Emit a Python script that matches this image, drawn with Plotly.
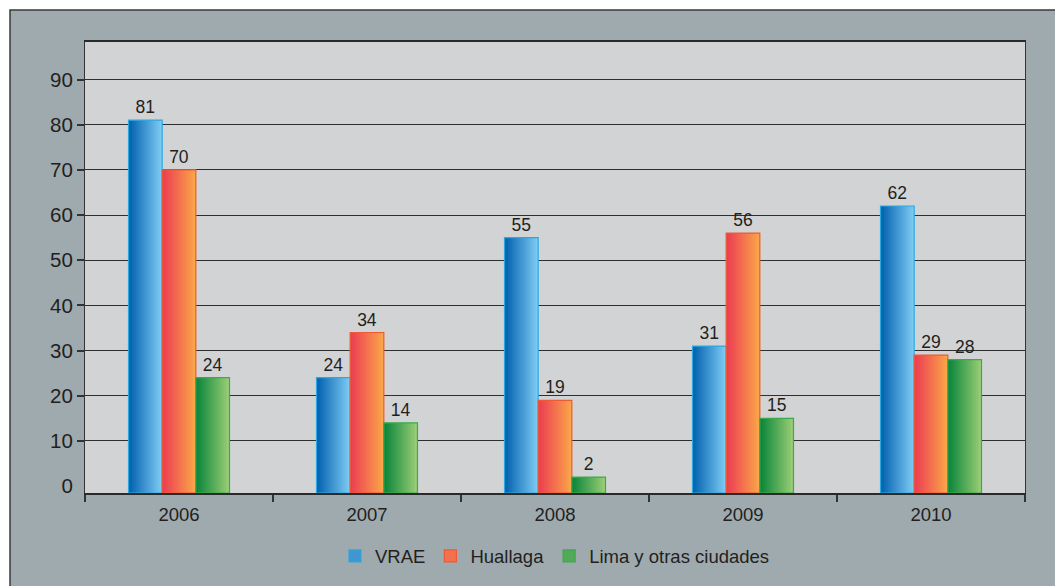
import numpy as np
import plotly.graph_objects as go

years = ["2006", "2007", "2008", "2009", "2010"]
vrae = [81, 24, 55, 31, 62]
huallaga = [70, 34, 19, 56, 29]
lima = [24, 14, 2, 15, 28]
series_names = ["VRAE", "Huallaga", "Lima y otras ciudades"]
y_ticks = [10, 20, 30, 40, 50, 60, 70, 80, 90]

# (dark edge, light edge, border) per series
palette = [
    ((4, 98, 176), (124, 202, 242), "#2aa9e0"),
    ((237, 62, 82), (250, 164, 74), "#ee5a35"),
    ((12, 134, 58), (152, 204, 118), "#3aab4c"),
]

BASE = -1.52      # axis floor sits a bit below zero, as in the original
BAR_W = 0.179
STRIPS = 18

fig = go.Figure()


def mix(c1, c2, t):
    return "rgb(%d,%d,%d)" % tuple(round(a + (b - a) * t) for a, b in zip(c1, c2))


for i, (name, vals) in enumerate(zip(series_names, [vrae, huallaga, lima])):
    dark, light, border = palette[i]
    start = -1.5 * BAR_W + i * BAR_W
    end = start + BAR_W
    heights = np.array(vals) - BASE
    sw = BAR_W / STRIPS
    # fake the horizontal gradient with thin overlapping strips
    for k in range(STRIPS):
        off = start + k * sw
        fig.add_trace(go.Bar(
            x=years, y=heights, base=BASE,
            offset=off, width=min(sw * 1.7, end - off),
            marker=dict(color=mix(dark, light, k / (STRIPS - 1)), line_width=0),
            showlegend=False, hoverinfo="skip",
        ))
    fig.add_trace(go.Bar(
        x=years, y=heights, base=BASE, offset=start, width=BAR_W,
        marker=dict(color="rgba(0,0,0,0)", line=dict(color=border, width=1.2)),
        text=[str(v) for v in vals], textposition="outside",
        textfont=dict(size=17.5, color="#231f20"), cliponaxis=False,
        showlegend=False, name=name,
    ))

for i, name in enumerate(series_names):
    dark, light, border = palette[i]
    fig.add_trace(go.Bar(
        x=[None], y=[None], name=name, yaxis="y2",
        marker=dict(color=mix(light, dark, 0.5), line=dict(color=border, width=1.2)),
    ))

fig.update_layout(
    width=1055, height=586,
    margin=dict(l=85, r=30, t=42, b=92),
    paper_bgcolor="white",
    plot_bgcolor="#d2d3d5",
    barmode="overlay",
    font=dict(family="Liberation Sans, Arial, sans-serif", color="#231f20"),
    showlegend=True,
    legend=dict(orientation="h", x=0.5, xanchor="center", y=-0.138, yanchor="middle",
                font=dict(size=18.5), bgcolor="rgba(0,0,0,0)", traceorder="normal",
                itemwidth=30),
    xaxis=dict(
        type="category", tickson="boundaries", ticks="outside", ticklen=7,
        tickcolor="#333", tickwidth=1.5, showgrid=False,
        showline=True, linecolor="#2a2a2a", linewidth=2, mirror=True,
        tickfont=dict(size=18.5), range=[-0.5, 4.5], ticklabelstandoff=4,
    ),
    yaxis=dict(
        range=[BASE, 98.3], tickmode="array", tickvals=y_ticks,
        ticks="outside", ticklen=7, tickcolor="#333", tickwidth=1.5,
        showgrid=True, gridcolor="#2e2e2e", gridwidth=1, zeroline=False,
        showline=True, linecolor="#333", linewidth=1.2, mirror=True,
        tickfont=dict(size=20.5),
    ),
    yaxis2=dict(
        overlaying="y", side="left", range=[BASE, 98.3], tickmode="array",
        tickvals=[0], ticks="outside", ticklen=7, tickcolor="rgba(0,0,0,0)",
        showgrid=False, zeroline=False, showline=False, tickfont=dict(size=20.5),
    ),
    shapes=[
        # outer framed panel
        dict(type="rect", xref="paper", yref="paper", layer="below",
             x0=(10 - 85) / 940, x1=(1065 - 85) / 940,
             y0=-(92 + 10) / 452, y1=1 + 32 / 452,
             fillcolor="#9eaaae", line=dict(color="#3a3a3a", width=1.5)),
        # plot area fill on top of the panel
        dict(type="rect", xref="paper", yref="paper", layer="below",
             x0=0, x1=1, y0=0, y1=1,
             fillcolor="#d2d3d5", line=dict(width=0)),
    ],
)

# page body has a default margin; drop it so the figure sits at 0,0
fig.write_html("out.html", config={"displayModeBar": False},
               post_script="document.body.style.margin='0';")
